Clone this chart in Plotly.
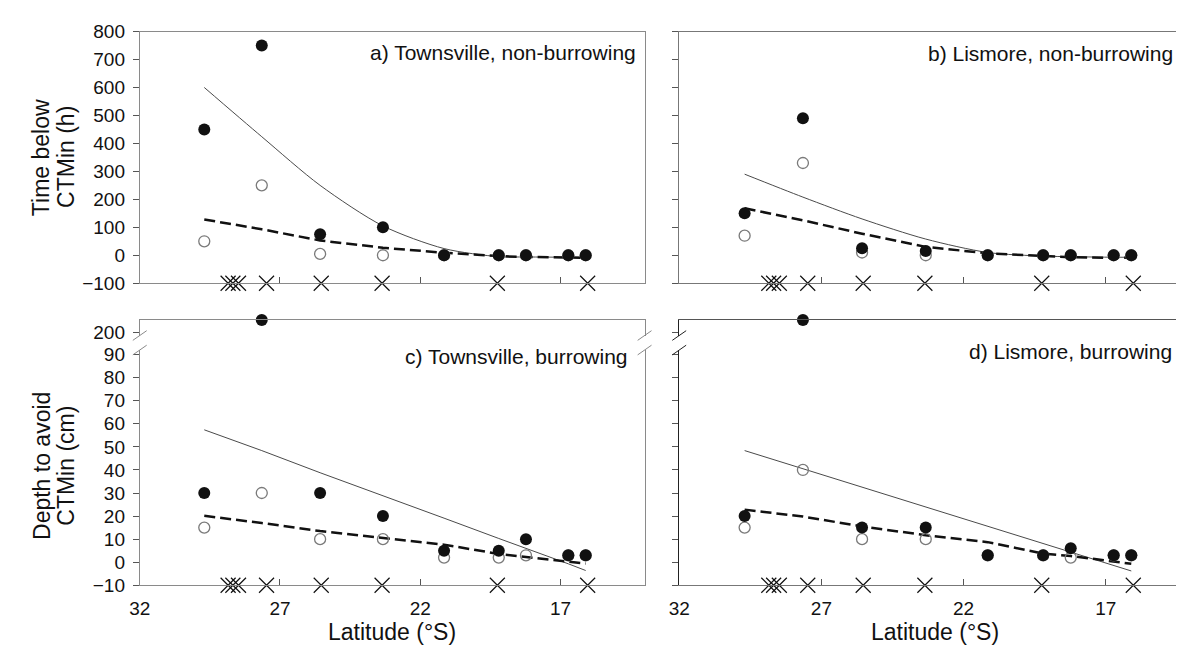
import plotly.graph_objects as go

W, H = 1184, 657

# ---------------- data ----------------
lat_sites = [29.7, 27.65, 25.57, 23.33, 21.15, 19.2, 18.23, 16.72, 16.1]
lat_x = [28.85, 28.68, 28.48, 27.48, 25.53, 23.36, 19.25, 16.03]

# a) Townsville, non-burrowing  (Time below CTMin, h)
a_filled = [450, 750, 75, 100, 0, 0, 0, 0, 0]
a_open = [50, 250, 5, 0, 0, 0, 0, 0, 0]
a_solid = [600, 424, 250, 105, 24, -5, -6, -7, -7]
a_dash = [128, 93, 53, 27, 9, -3, -6, -8, -9]

# b) Lismore, non-burrowing
b_filled = [150, 490, 25, 15, 0, 0, 0, 0, 0]
b_open = [70, 330, 10, 0, 0, 0, 0, 0, 0]
b_solid = [290, 208, 130, 58, 10, -3, -5, -7, -7]
b_dash = [168, 125, 77, 30, 7, -3, -7, -9, -8]

# c) Townsville, burrowing (Depth to avoid CTMin, cm)
c_filled = [30, None, 30, 20, 5, 5, 10, 3, 3]
c_open = [15, 30, 10, 10, 2, 2, 3, 3, 3]
c_solid = [57.4, 48.4, 38.8, 28.9, 19.1, 10.3, 6.1, -0.7, -3.6]
c_dash = [20.1, 17, 13.5, 10.4, 7.6, 3.6, 2.2, 0.1, -0.6]
c_out_lat = [27.65]
c_out = [205]

# d) Lismore, burrowing
d_filled = [20, None, 15, 15, 3, 3, 6, 3, 3]
d_open = [15, 40, 10, 10, 3, 3, 2, 3, 3]
d_solid = [48.4, 40.5, 32.5, 24.0, 15.7, 8.1, 4.4, -1.3, -3.8]
d_dash = [22.8, 19.8, 15.5, 11.7, 8.7, 3.7, 2.7, 0.4, -0.7]
d_out_lat = [27.65]
d_out = [205]

top_ticks = [-100, 0, 100, 200, 300, 400, 500, 600, 700, 800]
bot_ticks = [-10, 0, 10, 20, 30, 40, 50, 60, 70, 80, 90]
x_ticks = [32, 27, 22, 17]
labels = ["a) Townsville, non-burrowing", "b) Lismore, non-burrowing",
          "c) Townsville, burrowing", "d) Lismore, burrowing"]

# ---------------- layout geometry (pixels) ----------------
def px(x):
    return x / W

def py(y):
    return 1 - y / H

LX = [122, 632]
RX = [667, 1184]
TOPY = [14, 274]
UPY = [312, 328]
LOWY = [343, 586]
XR = [32, 14]

FONT = "Liberation Sans, Arial, Helvetica, sans-serif"
GRAY = "#8a8a8a"
INK = "#111111"

fig = go.Figure()


def add_panel(xa, ya, filled, opn, solid, dash, ybase, curved):
    fig.add_trace(go.Scatter(x=lat_sites, y=solid, mode="lines", xaxis=xa, yaxis=ya,
                             line=dict(color="#4a4a4a", width=1,
                                       shape="spline" if curved else "linear",
                                       smoothing=0.8),
                             hoverinfo="skip"))
    fig.add_trace(go.Scatter(x=lat_sites, y=dash, mode="lines", xaxis=xa, yaxis=ya,
                             line=dict(color=INK, width=2.5, dash="11px,5px"),
                             hoverinfo="skip"))
    fig.add_trace(go.Scatter(x=lat_sites, y=opn, mode="markers", xaxis=xa, yaxis=ya,
                             marker=dict(symbol="circle-open", size=11, color="#7a7a7a",
                                         line=dict(color="#7a7a7a", width=1.3)),
                             cliponaxis=False))
    fig.add_trace(go.Scatter(x=lat_sites, y=filled, mode="markers", xaxis=xa, yaxis=ya,
                             marker=dict(symbol="circle", size=12, color=INK),
                             cliponaxis=False))
    fig.add_trace(go.Scatter(x=lat_x, y=[ybase] * len(lat_x), mode="markers",
                             xaxis=xa, yaxis=ya,
                             marker=dict(symbol="x-thin-open", size=15, color=INK,
                                         line=dict(color=INK, width=1.2)),
                             cliponaxis=False))


add_panel("x", "y", a_filled, a_open, a_solid, a_dash, -100, True)
add_panel("x2", "y2", b_filled, b_open, b_solid, b_dash, -100, True)
add_panel("x3", "y3", c_filled, c_open, c_solid, c_dash, -10, False)
add_panel("x4", "y4", d_filled, d_open, d_solid, d_dash, -10, False)

fig.add_trace(go.Scatter(x=c_out_lat, y=c_out, mode="markers", xaxis="x5", yaxis="y5",
                         marker=dict(symbol="circle", size=12, color=INK),
                         cliponaxis=False))
fig.add_trace(go.Scatter(x=d_out_lat, y=d_out, mode="markers", xaxis="x6", yaxis="y6",
                         marker=dict(symbol="circle", size=12, color=INK),
                         cliponaxis=False))

tickfont = dict(family=FONT, size=19, color=INK)


def xaxis(dom, anchor, labels_on, mirror=True, ticks="inside", color=GRAY):
    return dict(domain=[px(dom[0]), px(dom[1])], anchor=anchor, range=XR,
                showgrid=False, zeroline=False, showline=True, linecolor=color,
                linewidth=1, mirror=mirror,
                ticks=ticks, ticklen=6, tickcolor="#555555", tickvals=x_ticks,
                showticklabels=labels_on, tickfont=tickfont, ticklabelstandoff=6)


def yaxis(dom, anchor, rng, tv, labels_on, color=GRAY):
    return dict(domain=[py(dom[1]), py(dom[0])], anchor=anchor, range=rng,
                showgrid=False, zeroline=False, showline=True, linecolor=color,
                linewidth=1, mirror=True, ticks="outside", ticklen=6,
                tickcolor="#555555", tickvals=tv, showticklabels=labels_on,
                tickfont=tickfont, ticklabelstandoff=4)


fig.update_layout(
    width=W, height=H, margin=dict(l=0, r=0, t=0, b=0),
    paper_bgcolor="white", plot_bgcolor="white", showlegend=False,
    xaxis=xaxis(LX, "y", False),
    yaxis=yaxis(TOPY, "x", [-100, 800], top_ticks, True),
    xaxis2=xaxis(RX, "y2", False, color="#777777"),
    yaxis2=yaxis(TOPY, "x2", [-100, 800], top_ticks, False, color="#777777"),
    xaxis3=xaxis(LX, "y3", True, mirror=False),
    yaxis3=yaxis(LOWY, "x3", [-10, 92], bot_ticks, True),
    xaxis4=xaxis(RX, "y4", True, mirror=False, color="#777777"),
    yaxis4=yaxis(LOWY, "x4", [-10, 92], bot_ticks, False, color="#222222"),
    xaxis5=dict(domain=[px(LX[0]), px(LX[1])], anchor="y5", range=XR, side="top",
                showgrid=False, zeroline=False, showline=True, linecolor=GRAY,
                mirror=False, ticks="", showticklabels=False),
    yaxis5=yaxis(UPY, "x5", [198.8, 205], [200], True),
    xaxis6=dict(domain=[px(RX[0]), px(RX[1])], anchor="y6", range=XR, side="top",
                showgrid=False, zeroline=False, showline=True, linecolor="#555555",
                mirror=False, ticks="", showticklabels=False),
    yaxis6=yaxis(UPY, "x6", [198.8, 205], [200], False, color="#222222"),
)

# panel labels
ann_font = dict(family=FONT, size=21, color=INK)
for txt, xx, yy in [(labels[0], 625, 36), (labels[1], 1168, 37),
                    (labels[2], 617, 350), (labels[3], 1167, 345)]:
    fig.add_annotation(x=px(xx), y=py(yy), xref="paper", yref="paper", text=txt,
                       showarrow=False, xanchor="right", yanchor="middle", font=ann_font)

# axis titles
tfont = dict(family=FONT, size=23, color=INK)
for txt, xx, yy in [("Time below", 23, 144), ("CTMin (h)", 48, 144),
                    ("Depth to avoid", 23, 463), ("CTMin (cm)", 48, 463)]:
    fig.add_annotation(x=px(xx), y=py(yy), xref="paper", yref="paper", text=txt,
                       showarrow=False, textangle=-90, xanchor="center",
                       yanchor="middle", font=tfont)
for xx in [(LX[0] + LX[1]) / 2, (RX[0] + RX[1]) / 2]:
    fig.add_annotation(x=px(xx), y=py(634), xref="paper", yref="paper",
                       text="Latitude (°S)", showarrow=False, xanchor="center",
                       yanchor="middle", font=tfont)

# axis-break slashes
for bx, col in [(LX[0], GRAY), (LX[1], GRAY), (RX[0], "#222222"), (RX[1] - 4, "#555555")]:
    for by in (UPY[1], LOWY[0]):
        fig.add_shape(type="line", xref="paper", yref="paper",
                      x0=px(bx - 7), y0=py(by + 5), x1=px(bx + 7), y1=py(by - 5),
                      line=dict(color=col, width=1))

fig.write_html("out.html")
